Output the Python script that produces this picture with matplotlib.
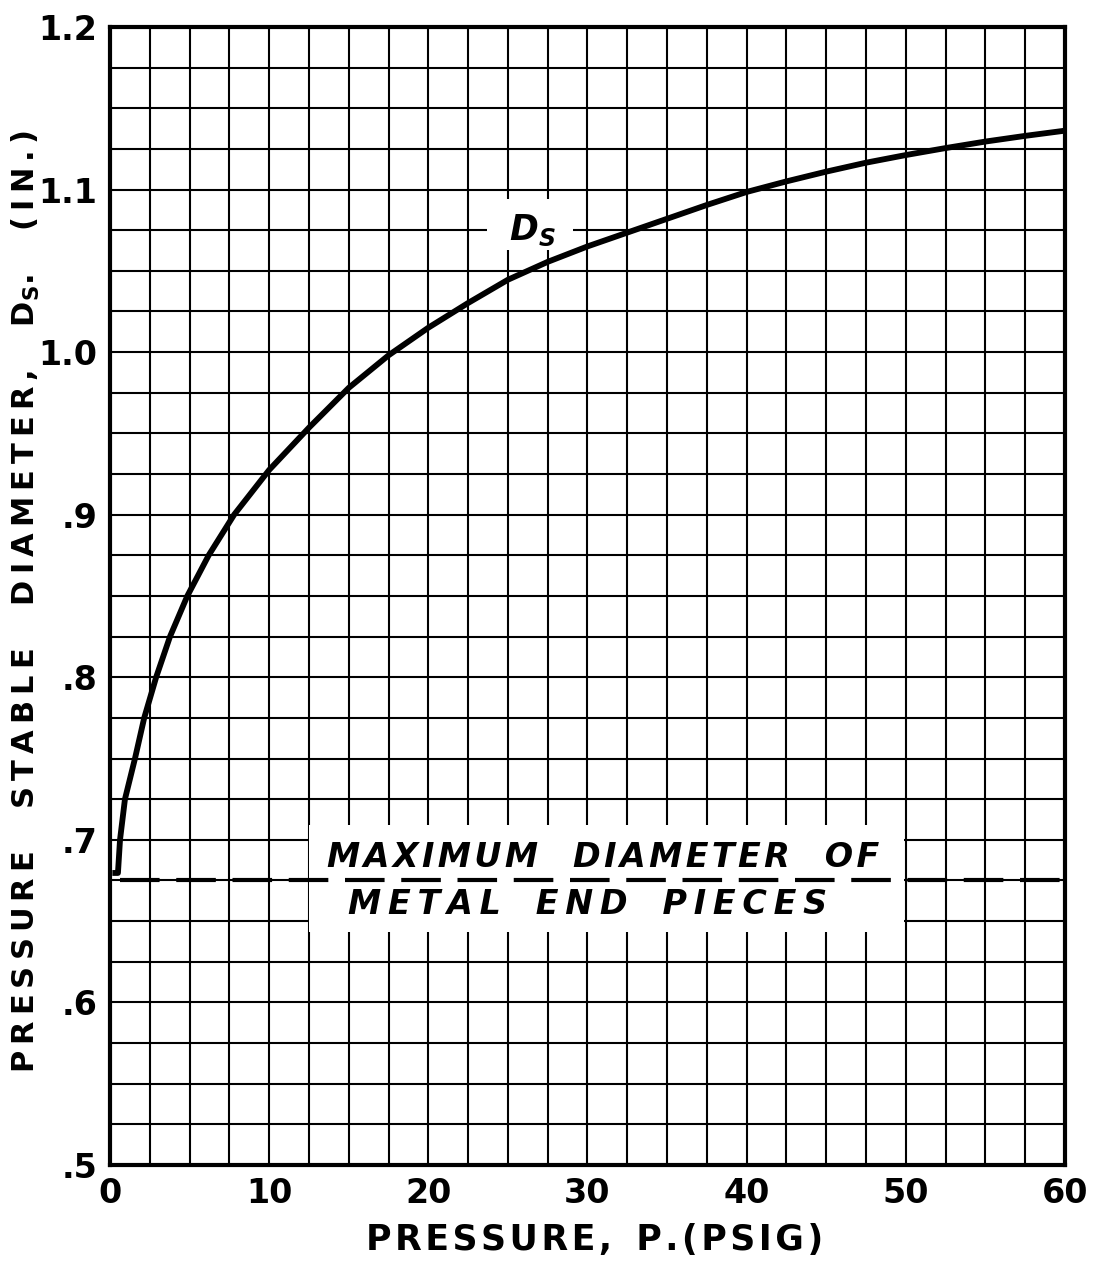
import matplotlib
matplotlib.use("Agg")
import matplotlib.pyplot as plt
from matplotlib.patches import Rectangle

# data
pressure = [0.15, 0.5, 0.63, 0.94, 1.57, 2.15, 2.9, 3.77, 4.86, 6.2, 7.8, 10.0,
            12.5, 15.0, 17.5, 20.0, 22.5, 25.0, 27.5, 30.0, 32.5, 35.0, 37.5,
            40.0, 42.5, 45.0, 47.5, 50.0, 52.5, 55.0, 57.5, 60.0]
diameter = [0.6796, 0.6796, 0.70, 0.725, 0.75, 0.775, 0.80, 0.825, 0.85, 0.875,
            0.90, 0.9275, 0.9535, 0.978, 0.998, 1.015, 1.0302, 1.0445, 1.0555,
            1.065, 1.0735, 1.082, 1.0905, 1.0985, 1.105, 1.111, 1.1165, 1.1212,
            1.1255, 1.1295, 1.133, 1.1362]
max_end_piece = 0.675
x_ticks = [0, 10, 20, 30, 40, 50, 60]
x_labels = ["0", "10", "20", "30", "40", "50", "60"]
y_ticks = [0.5, 0.6, 0.7, 0.8, 0.9, 1.0, 1.1, 1.2]
y_labels = [".5", ".6", ".7", ".8", ".9", "1.0", "1.1", "1.2"]

TS = '\u2009'  # thin space
HS = '\u200a'  # hair space


def spaced(s, gap=" ", sep=TS):
    return gap.join(sep.join(w) for w in s.split(" "))


plt.rcParams['font.family'] = ['DejaVu Sans']
plt.rcParams['font.weight'] = 'bold'
plt.rcParams['mathtext.default'] = 'regular'

fig = plt.figure(figsize=(11.01, 12.65), dpi=100)
ax = fig.add_axes([0.0999, 0.0791, 0.8674, 0.8996])

ax.set_xlim(0, 60)
ax.set_ylim(0.5, 1.2)
ax.set_xticks(x_ticks)
ax.set_xticklabels(x_labels)
ax.set_yticks(y_ticks)
ax.set_yticklabels(y_labels)
ax.set_xticks([i * 2.5 for i in range(25)], minor=True)
ax.set_yticks([0.5 + i * 0.025 for i in range(29)], minor=True)
ax.grid(True, which='both', color='black', linewidth=1.5)
ax.set_axisbelow(True)
ax.tick_params(which='both', length=0, labelsize=24, pad=9)
for sp in ax.spines.values():
    sp.set_linewidth(3)
    sp.set_zorder(6)

# white patches behind the labels inside the grid
ax.add_patch(Rectangle((12.5, 0.643), 37.4, 0.066, facecolor='white',
                       edgecolor='none', zorder=2))
ax.add_patch(Rectangle((23.7, 1.063), 5.4, 0.031, facecolor='white',
                       edgecolor='none', zorder=2))

ax.plot(pressure, diameter, color='black', linewidth=4.2,
        solid_joinstyle='round', solid_capstyle='butt', zorder=4)
ax.plot([0.6, 60], [max_end_piece, max_end_piece], color='black',
        linewidth=3, dashes=(9.5, 4), zorder=4)

ax.text(31.0, 0.689, spaced("MAXIMUM DIAMETER OF", "   ", HS), fontsize=24,
        style='italic', ha='center', va='center', zorder=5)
ax.text(30.0, 0.660, spaced("METAL END PIECES", "   ", HS + HS), fontsize=24,
        style='italic', ha='center', va='center', zorder=5)
ax.text(26.0, 1.075, "D", fontsize=25, style='italic',
        ha='center', va='center', zorder=5)
ax.text(27.45, 1.0695, "S", fontsize=17, style='italic',
        ha='center', va='center', zorder=5)

fig.text(595 / 1101, 1 - 1240 / 1265,
         spaced("PRESSURE, P.(PSIG)", "  ", HS),
         fontsize=25, ha='center', va='center')
ylab = "    ".join([spaced("PRESSURE"), spaced("STABLE"), spaced("DIAMETER,"),
                    "D$_{S}$.", spaced("(IN.)")])
fig.text(26 / 1101, 1 - 601 / 1265, ylab, fontsize=22, rotation=90,
         ha='center', va='center')

fig.savefig("out.png", dpi=100)
